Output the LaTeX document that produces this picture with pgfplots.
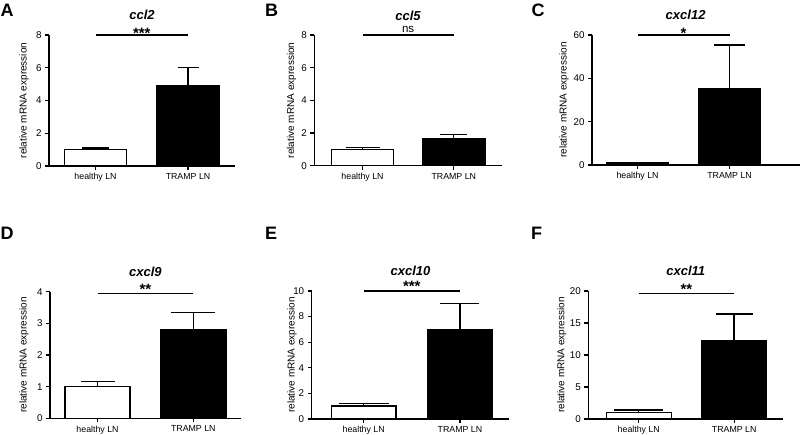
\documentclass[border=0pt]{standalone}
\usepackage{fontspec}
\setmainfont{Liberation Sans}
\usepackage{pgfplots}
\pgfplotsset{compat=1.18}
\pgfplotsset{
  panel/.style={
    scale only axis, anchor=south west, clip=false,
    axis x line*=bottom, axis y line*=left,
    axis line style={line width=1.4pt, black},
    tick align=outside, major tick length=4pt,
    tick style={line width=1.3pt, black},
    xtick={0,1}, xticklabels={healthy LN, TRAMP LN},
    ymin=0,
    /pgf/number format/assume math mode=true,
    yticklabel style={font=\fontsize{9.8}{11}\selectfont},
    xticklabel style={font=\fontsize{8.8}{10}\selectfont},
    ylabel={relative mRNA expression},
    every axis y label/.style={rotate=90, anchor=center, font=\fontsize{10}{12}\selectfont},
    every axis title/.style={at={(0.5,1)}, anchor=base, yshift=15pt, font=\fontsize{13}{15}\selectfont\bfseries\itshape},
  },
  hbar/.style={ybar, bar shift=0pt, fill=white, draw=black, line width=1.4pt,
    error bars/y dir=plus, error bars/y explicit,
    error bars/error bar style={line width=1.4pt, black}},
  tbar/.style={ybar, bar shift=0pt, fill=black, draw=black, line width=1.4pt,
    error bars/y dir=plus, error bars/y explicit,
    error bars/error bar style={line width=1.4pt, black}},
  sig/.style={black, line width=1.3pt, forget plot},
}
\newcommand{\starfont}{\fontsize{15}{17}\selectfont\bfseries}
\newcommand{\letterfont}{\fontsize{18}{20}\selectfont\bfseries}
\begin{document}
\begin{tikzpicture}
\useasboundingbox (0,0) rectangle (800pt,435pt);
% ---------------- A
\node[anchor=base west, font=\letterfont, inner sep=0pt] at (0.5pt,418pt) {A};
\begin{axis}[panel, at={(49pt,269pt)}, width=186pt, height=131pt,
  xmin=-0.503, xmax=1.508, ymax=8, ytick={0,2,4,6,8},
  title={ccl2}, ylabel style={at={(axis description cs:-0.134,0.5)}}]
\addplot[hbar, bar width=0.67, error bars/error mark options={rotate=90, mark size=13.5pt, line width=1.4pt, black}] coordinates {(0,1.0) +- (0,0.1)};
\addplot[tbar, bar width=0.67, error bars/error mark options={rotate=90, mark size=10.5pt, line width=1.4pt, black}] coordinates {(1,4.89) +- (0,1.11)};
\addplot[sig] coordinates {(0,8) (1,8)};
\node[font=\starfont, anchor=base, yshift=-4pt] at (axis cs:0.5,8) {***};
\end{axis}
% ---------------- B
\node[anchor=base west, font=\letterfont, inner sep=0pt] at (265pt,418pt) {B};
\begin{axis}[panel, at={(314.3pt,269.3pt)}, width=187.4pt, height=130.7pt,
  xmin=-0.528, xmax=1.525, ymax=8, ytick={0,2,4,6,8},
  title={ccl5}, ylabel style={at={(axis description cs:-0.121,0.5)}}]
\addplot[hbar, bar width=0.68, error bars/error mark options={rotate=90, mark size=17pt, line width=1.4pt, black}] coordinates {(0,1.0) +- (0,0.1)};
\addplot[tbar, bar width=0.68, error bars/error mark options={rotate=90, mark size=13.5pt, line width=1.4pt, black}] coordinates {(1,1.68) +- (0,0.24)};
\addplot[sig] coordinates {(0,8) (1,8)};
\node[font=\fontsize{11.5}{13}\selectfont, anchor=base, yshift=3pt] at (axis cs:0.5,8) {ns};
\end{axis}
% ---------------- C
\node[anchor=base west, font=\letterfont, inner sep=0pt] at (531.5pt,418pt) {C};
\begin{axis}[panel, at={(592pt,270pt)}, width=208pt, height=130pt,
  xmin=-0.495, xmax=1.766, ymax=60, ytick={0,20,40,60},
  title={cxcl12}, title style={at={(0.45,1)}}, ylabel style={at={(axis description cs:-0.135,0.5)}}]
\addplot[hbar, bar width=0.67, error bars/error mark options={rotate=90, mark size=12pt, line width=1.4pt, black}] coordinates {(0,1.0) +- (0,0.2)};
\addplot[tbar, bar width=0.67, error bars/error mark options={rotate=90, mark size=15.5pt, line width=1.4pt, black}] coordinates {(1,35.0) +- (0,20.3)};
\addplot[sig] coordinates {(0,60) (1,60)};
\node[font=\starfont, anchor=base, yshift=-4pt] at (axis cs:0.5,60) {*};
\end{axis}
% ---------------- D
\node[anchor=base west, font=\letterfont, inner sep=0pt] at (0.5pt,195pt) {D};
\begin{axis}[panel, at={(50pt,16.7pt)}, width=190.7pt, height=126.6pt,
  xmin=-0.496, xmax=1.495, ymax=4, ytick={0,1,2,3,4},
  title={cxcl9}, ylabel style={at={(axis description cs:-0.136,0.5)}}]
\addplot[hbar, bar width=0.68, error bars/error mark options={rotate=90, mark size=17pt, line width=1.4pt, black}] coordinates {(0,1.0) +- (0,0.16)};
\addplot[tbar, bar width=0.68, error bars/error mark options={rotate=90, mark size=22pt, line width=1.4pt, black}] coordinates {(1,2.81) +- (0,0.54)};
\addplot[sig] coordinates {(0,3.95) (1,3.95)};
\node[font=\starfont, anchor=base, yshift=-1pt] at (axis cs:0.5,3.95) {**};
\end{axis}
% ---------------- E
\node[anchor=base west, font=\letterfont, inner sep=0pt] at (265pt,195pt) {E};
\begin{axis}[panel, at={(311.7pt,16pt)}, width=197.6pt, height=128pt,
  xmin=-0.54, xmax=1.513, ymax=10, ytick={0,2,4,6,8,10},
  title={cxcl10}, ylabel style={at={(axis description cs:-0.10,0.5)}}]
\addplot[hbar, bar width=0.67, error bars/error mark options={rotate=90, mark size=25pt, line width=1.4pt, black}] coordinates {(0,1.0) +- (0,0.2)};
\addplot[tbar, bar width=0.67, error bars/error mark options={rotate=90, mark size=19.5pt, line width=1.4pt, black}] coordinates {(1,7.0) +- (0,2.0)};
\addplot[sig] coordinates {(0,10) (1,10)};
\node[font=\starfont, anchor=base, yshift=-1pt] at (axis cs:0.5,10) {***};
\end{axis}
% ---------------- F
\node[anchor=base west, font=\letterfont, inner sep=0pt] at (531pt,195pt) {F};
\begin{axis}[panel, at={(588.3pt,16pt)}, width=195pt, height=128pt,
  xmin=-0.529, xmax=1.515, ymax=20, ytick={0,5,10,15,20},
  title={cxcl11}, ylabel style={at={(axis description cs:-0.136,0.5)}}]
\addplot[hbar, bar width=0.68, error bars/error mark options={rotate=90, mark size=24.5pt, line width=1.4pt, black}] coordinates {(0,1.0) +- (0,0.4)};
\addplot[tbar, bar width=0.68, error bars/error mark options={rotate=90, mark size=18.5pt, line width=1.4pt, black}] coordinates {(1,12.2) +- (0,4.2)};
\addplot[sig] coordinates {(0,19.6) (1,19.6)};
\node[font=\starfont, anchor=base, yshift=-1pt] at (axis cs:0.5,19.6) {**};
\end{axis}
\end{tikzpicture}
\end{document}
